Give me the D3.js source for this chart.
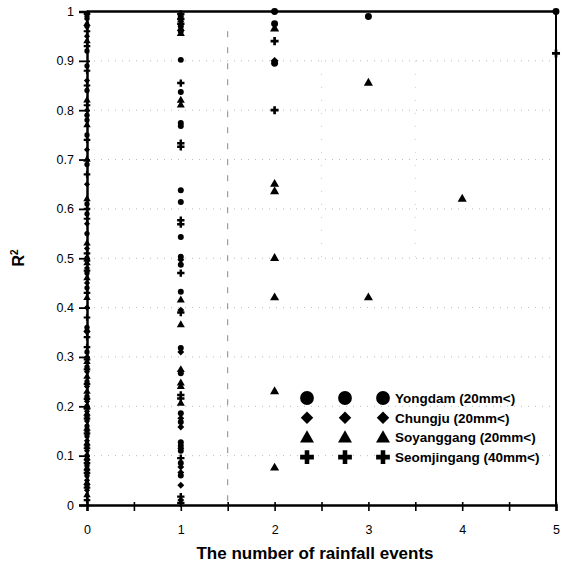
<!DOCTYPE html>
<html><head><meta charset="utf-8">
<script src="https://cdn.jsdelivr.net/npm/d3@7"></script>
<style>body{margin:0;background:#fff}svg{display:block}</style>
</head><body>
<svg id="c" width="563" height="575"></svg>
<script>
// tick labels
const xTicks = [0, 1, 2, 3, 4, 5];
const yTicks = [0, 0.1, 0.2, 0.3, 0.4, 0.5, 0.6, 0.7, 0.8, 0.9, 1];
const seriesNames = ["Yongdam (20mm<)", "Chungju (20mm<)", "Soyanggang (20mm<)", "Seomjingang (40mm<)"];

// [number of rainfall events, R²]
const yongdam = [
  [0,0.99],[0,0.97],[0,0.92],[0,0.89],[0,0.84],[0,0.79],[0,0.78],[0,0.75],[0,0.69],[0,0.61],[0,0.59],[0,0.55],
  [0,0.50],[0,0.47],[0,0.44],[0,0.36],[0,0.31],[0,0.28],[0,0.25],[0,0.22],[0,0.20],[0,0.18],[0,0.16],[0,0.14],
  [0,0.12],[0,0.10],[0,0.08],[0,0.06],[0,0.04],
  [1,0.99],[1,0.97],[1,0.96],[1,0.902],[1,0.837],[1,0.774],[1,0.768],[1,0.638],[1,0.614],[1,0.543],[1,0.503],
  [1,0.487],[1,0.432],[1,0.318],[1,0.267],[1,0.186],[1,0.168],[1,0.127],[1,0.12],[1,0.11],[1,0.085],[1,0.06],
  [2,1.0],[2,0.975],[2,0.895],
  [3,0.99],
  [5,1.0]
];
const chungju = [
  [0,0.985],[0,0.95],[0,0.86],[0,0.80],[0,0.72],[0,0.65],[0,0.57],[0,0.52],[0,0.48],[0,0.45],[0,0.40],[0,0.35],
  [0,0.30],[0,0.27],[0,0.24],[0,0.21],[0,0.19],[0,0.17],[0,0.15],[0,0.13],[0,0.11],[0,0.09],[0,0.07],[0,0.05],[0,0.03],
  [1,0.98],[1,0.497],[1,0.395],[1,0.31],[1,0.176],[1,0.158],[1,0.115],[1,0.077],[1,0.066],[1,0.04],[1,0.01],
  [2,0.90]
];
const soyanggang = [
  [0,0.975],[0,0.94],[0,0.82],[0,0.77],[0,0.70],[0,0.62],[0,0.53],[0,0.49],[0,0.46],[0,0.42],[0,0.355],[0,0.29],
  [0,0.26],[0,0.23],[0,0.20],[0,0.185],[0,0.155],[0,0.125],[0,0.095],[0,0.075],[0,0.045],[0,0.02],
  [1,0.965],[1,0.955],[1,0.82],[1,0.81],[1,0.415],[1,0.365],[1,0.274],[1,0.247],[1,0.24],[1,0.206],
  [2,0.965],[2,0.65],[2,0.635],[2,0.50],[2,0.42],[2,0.23],[2,0.075],
  [3,0.855],[3,0.42],
  [4,0.62]
];
const seomjingang = [
  [0,0.995],[0,0.96],[0,0.93],[0,0.88],[0,0.85],[0,0.81],[0,0.74],[0,0.67],[0,0.60],[0,0.58],[0,0.51],[0,0.495],
  [0,0.475],[0,0.43],[0,0.38],[0,0.34],[0,0.32],[0,0.295],[0,0.275],[0,0.245],[0,0.215],[0,0.195],[0,0.175],
  [0,0.145],[0,0.115],[0,0.085],[0,0.065],[0,0.035],[0,0.01],
  [1,0.995],[1,0.985],[1,0.975],[1,0.855],[1,0.733],[1,0.726],[1,0.577],[1,0.569],[1,0.47],[1,0.39],[1,0.223],
  [1,0.216],[1,0.095],[1,0.017],[1,0.004],
  [2,0.94],[2,0.80],
  [5,0.915]
];

const svg = d3.select("#c");
const font = "'Liberation Sans', Arial, sans-serif";
const m = {left: 87, right: 556, top: 11.5, bottom: 505};
const x = d3.scaleLinear().domain([0, 5]).range([m.left, m.right]);
const y = d3.scaleLinear().domain([0, 1]).range([m.bottom, m.top]);

// grid
const g = svg.append("g");
g.selectAll("line.hg").data(yTicks.slice(1, -1)).join("line")
  .attr("x1", x(0)).attr("x2", x(5)).attr("y1", d => y(d)).attr("y2", d => y(d))
  .attr("stroke", "#bbb").attr("stroke-width", 1).attr("stroke-dasharray", "1,6");
g.append("line").attr("x1", x(1.5)).attr("x2", x(1.5)).attr("y1", y(0.96)).attr("y2", y(0))
  .attr("stroke", "#888").attr("stroke-width", 1).attr("stroke-dasharray", "6,10");
[2.5, 3.5].forEach(v => g.append("line").attr("x1", x(v)).attr("x2", x(v)).attr("y1", y(0.9)).attr("y2", y(0.5))
  .attr("stroke", "#ccc").attr("stroke-dasharray", "1,12"));

// frame
svg.append("line").attr("x1", x(0)).attr("x2", x(5)).attr("y1", y(1)).attr("y2", y(1)).attr("stroke", "#000").attr("stroke-width", 2.5);
svg.append("line").attr("x1", x(5)).attr("x2", x(5)).attr("y1", y(1)).attr("y2", y(0)).attr("stroke", "#000").attr("stroke-width", 2);

// axes
const xAxis = d3.axisBottom(x).tickValues(d3.range(0, 5.01, 0.5)).tickSize(6)
  .tickFormat(d => Number.isInteger(d) ? d : "");
const xg = svg.append("g").attr("transform", `translate(0,${y(0)})`).call(xAxis);
xg.select(".domain").attr("stroke-width", 2.5);
xg.selectAll(".tick line").attr("stroke-width", 1.6).attr("y1", -3);
xg.selectAll(".tick text").attr("font-family", font).attr("font-size", 12.5).attr("dy", "1.6em");

const yAxis = d3.axisLeft(y).tickValues(yTicks).tickSize(8).tickFormat(d => d);
const yg = svg.append("g").attr("transform", `translate(${x(0)},0)`).call(yAxis);
yg.select(".domain").attr("stroke-width", 2.5);
yg.selectAll(".tick line").attr("stroke-width", 1.8).attr("x1", 3);
yg.selectAll(".tick text").attr("font-family", font).attr("font-size", 12.5).attr("x", -13);

// markers
const symTypes = [d3.symbolCircle, d3.symbolDiamond2, d3.symbolTriangle, d3.symbolCross];
const sizeAt = [[22, 24, 24, 24], [28, 30, 28, 30], [38, 40, 36, 36]];
const all = [yongdam, chungju, soyanggang, seomjingang];
const mg = svg.append("g");
all.forEach((data, si) => {
  mg.selectAll(null).data(data).join("path")
    .attr("transform", d => `translate(${x(d[0])},${y(d[1])})`)
    .attr("d", d => d3.symbol().type(symTypes[si]).size(sizeAt[Math.min(d[0], 2)][si])())
    .attr("fill", "#000");
});

// legend
const lx = [307, 345, 383], ly0 = 398, lstep = 19.7;
const legendSizes = [150, 100, 85, 105];
const lg = svg.append("g");
seriesNames.forEach((name, i) => {
  lx.forEach(px => {
    lg.append("path").attr("transform", `translate(${px},${ly0 + i * lstep + (i === 2 ? 1 : 0)})`)
      .attr("d", d3.symbol().type(symTypes[i]).size(legendSizes[i])()).attr("fill", "#000");
  });
  lg.append("text").attr("x", 395).attr("y", ly0 + i * lstep + 5)
    .attr("font-family", font).attr("font-size", 13.5).attr("font-weight", "bold").text(name);
});

// titles
svg.append("text").attr("x", 315).attr("y", 559).attr("text-anchor", "middle")
  .attr("font-family", font).attr("font-size", 17).attr("font-weight", "bold").text("The number of rainfall events");
const yl = svg.append("text").attr("transform", "translate(24,258) rotate(-90)").attr("text-anchor", "middle")
  .attr("font-family", font).attr("font-size", 16).attr("font-weight", "bold");
yl.append("tspan").text("R");
yl.append("tspan").attr("font-size", 10).attr("dy", -6).text("2");
</script>
</body></html>
